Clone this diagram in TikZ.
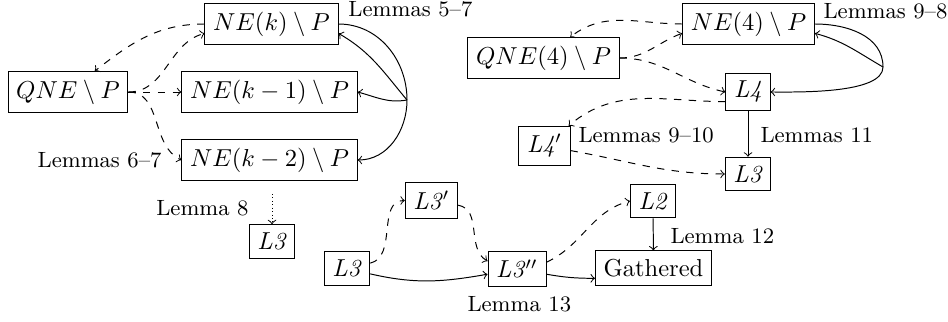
\documentclass[tikz,border=0pt]{standalone}
\begin{document}
\begin{tikzpicture}[x=0.408pt,y=0.408pt,
  box/.style={draw, rectangle},
  lbl/.style={font=\small, inner sep=0pt},
  dsh/.style={->, dashed},
  sol/.style={->}]
\useasboundingbox (0,0) rectangle (948,-321);
% left cluster
\node[box] (nek)  at (271.5,-24) {$NE(k)\setminus P$};
\node[box] (qne)  at (68,-92)    {$QNE\setminus P$};
\node[box] (nek1) at (269.5,-92) {$NE(k-1)\setminus P$};
\node[box] (nek2) at (269.5,-160) {$NE(k-2)\setminus P$};
\node[box] (l3a)  at (272,-241.5) {\textit{L3}};
% right cluster
\node[box] (ne4)  at (748.5,-24) {$NE(4)\setminus P$};
\node[box] (qne4) at (543.5,-58) {$QNE(4)\setminus P$};
\node[box] (l4)   at (748,-92)   {\textit{L4}};
\node[box] (l4p)  at (544.5,-146) {\textit{L4}$'$};
\node[box] (l3r)  at (748,-174)  {\textit{L3}};
% bottom cluster
\node[box] (l3b)  at (347,-268.5) {\textit{L3}};
\node[box] (l3p)  at (431.5,-200.5) {\textit{L3}$'$};
\node[box] (l3pp) at (517,-269)  {\textit{L3}$''$};
\node[box] (gath) at (653.5,-268) {Gathered};
\node[box] (l2)   at (653,-201)  {\textit{L2}};
% labels
\node[lbl, anchor=base west] (lem57) at (348,-17) {Lemmas 5--7};
\node[lbl, anchor=base west] (lem98) at (823,-18) {Lemmas 9--8};
\node[lbl, anchor=base east] (lem67) at (162,-167) {Lemmas 6--7};
\node[lbl, anchor=base east] (lem8) at (249,-215) {Lemma 8};
\node[lbl, anchor=base west] (lem910) at (578,-142) {Lemmas 9--10};
\node[lbl, anchor=base west] (lem11) at (760,-142) {Lemmas 11};
\node[lbl, anchor=base west] (lem12) at (670,-243) {Lemma 12};
\node[lbl, anchor=base west] (lem13) at (467,-311) {Lemma 13};
% left connectors
\draw[dsh] (qne.east) to[out=0,in=195] (nek.188);
\draw[dsh] (qne.east) -- (nek1.west);
\draw[dsh] (qne.east) to[out=0,in=155] (nek2.west);
\draw[dsh] (nek.west) to[out=180,in=38] (qne);
\coordinate (j1) at (407,-100);
\draw[sol] (nek.east) to[out=0,in=90] (j1) to[out=-90,in=0] (nek2.east);
\draw[sol] (j1) to[out=130,in=-30] (nek.352);
\draw[sol] (j1) to[out=190,in=-15] (nek1.east);
\coordinate (d8) at (272,-194);
\draw[->, densely dotted] (d8) -- (l3a);
% right connectors
\draw[dsh] (ne4.west) to[out=180,in=38] (qne4);
\draw[dsh] (qne4.east) to[out=0,in=200] (ne4.188);
\draw[dsh] (qne4.east) to[out=0,in=168] (l4.west);
\coordinate (j2) at (883,-67);
\draw[sol] (ne4.east) to[out=0,in=90] (j2) to[out=-90,in=0,looseness=0.6] (l4.east);
\draw[sol] (j2) to[out=150,in=-15] (ne4.352);
\draw[dsh] (l4.203) to[out=180,in=40] (l4p);
\draw[dsh] (l4p) to[out=-10,in=180] (l3r.west);
\draw[sol] (l4) -- (l3r);
% bottom connectors
\draw[dsh] (l3b) to[out=13,in=180] (l3p.west);
\draw[sol] (l3b) to[out=-13,in=190] (l3pp);
\draw[dsh] (l3p) to[out=-10,in=150] (l3pp.165);
\draw[sol] (l3pp) to[out=-10,in=180] (gath.190);
\draw[dsh] (l3pp.13) to[out=25,in=195] (l2.west);
\draw[sol] (l2) -- (gath);
\end{tikzpicture}
\end{document}
